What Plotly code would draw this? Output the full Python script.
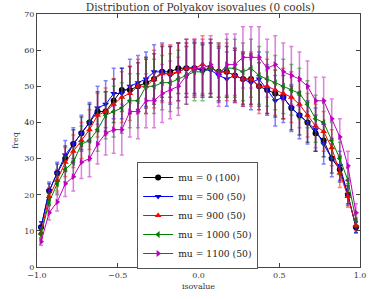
import plotly.graph_objects as go

isovalue = [-0.975, -0.925, -0.875, -0.825, -0.775, -0.725, -0.675, -0.625, -0.575, -0.525,
            -0.475, -0.425, -0.375, -0.325, -0.275, -0.225, -0.175, -0.125, -0.075, -0.025,
            0.025, 0.075, 0.125, 0.175, 0.225, 0.275, 0.325, 0.375, 0.425, 0.475,
            0.525, 0.575, 0.625, 0.675, 0.725, 0.775, 0.825, 0.875, 0.925, 0.975]

freq_mu0 = [11, 21, 26, 30, 34, 37, 40, 43, 43, 46, 49, 49, 50, 51, 52, 54, 54, 55, 55, 55,
            54.5, 55, 54, 54, 53, 52, 52, 50, 49, 48, 47, 44, 42, 40, 37, 35, 30, 27, 20, 11]
err_mu0 = [1.5, 2, 2.5, 3.5, 4, 4.5, 5, 5.5, 5.5, 6, 6, 6.5, 6.5, 7, 7, 7, 7, 7, 7, 7,
           7, 7, 7, 7, 7, 7, 7, 6.5, 6.5, 6.5, 6, 6, 5.5, 5.5, 5, 4.5, 4, 3.5, 2.5, 1.5]

freq_mu500 = [11, 21, 26, 31, 34, 37, 40, 44, 45, 48, 48, 50, 51, 52, 54, 54, 53, 54, 55, 55,
              54.5, 54.5, 53, 52, 53, 52, 51, 52, 49, 46, 47, 44, 42, 40, 38, 34, 30, 28, 20, 11]
err_mu500 = [1.5, 2.5, 3, 4, 4.5, 5, 5.5, 6, 6.5, 7, 7, 7.5, 7.5, 7.5, 7.5, 8, 8, 8, 8, 7.5,
             7.5, 7.5, 7.5, 7.5, 7.5, 7.5, 7.5, 7.5, 7, 7, 7, 6.5, 6.5, 6, 6, 5.5, 5, 4, 3, 1.5]

freq_mu900 = [9.5, 19.5, 24, 29, 32, 35, 38, 42, 43, 45, 47, 48, 50, 50, 52, 53.5, 53.5, 54, 55, 55,
              56, 55, 54, 54, 53, 52, 52, 50, 50, 49, 48, 47, 45, 42, 39, 37.5, 33, 26, 19.5, 11.5]
err_mu900 = [1.5, 2.5, 3, 4, 4.5, 5, 5.5, 6, 6.5, 7, 7, 7.5, 7.5, 7.5, 8, 8, 8, 8, 8, 8,
             8, 8, 8, 8, 7.5, 7.5, 7.5, 7.5, 7.5, 7, 7, 7, 6.5, 6, 6, 5.5, 5, 4, 3, 1.5]

freq_mu1000 = [9, 18, 23, 27, 29, 34, 35, 38, 42, 43, 44, 46, 46, 50, 50, 51, 51, 52, 53, 54,
               54, 55, 54, 55, 55, 54, 55, 53, 52, 51, 50, 49, 48, 45, 41, 40, 35, 30, 24, 13]
err_mu1000 = [1.5, 2.5, 3, 3.5, 4, 5, 5.5, 6, 6.5, 7, 7, 7.5, 7.5, 7.5, 7.5, 7.5, 8, 8, 8, 8,
              8, 8, 8, 8, 8, 8, 8, 8, 7.5, 7.5, 7.5, 7, 7, 6.5, 6.5, 6, 5, 4.5, 3.5, 2]

freq_mu1100 = [7, 15, 18, 23, 25, 29, 30, 34, 37, 38, 38, 43, 43, 46, 46, 48, 49, 50, 53, 55,
               55, 56, 53, 56, 56, 58, 58, 58, 55, 56, 54, 53, 52, 50, 46, 46, 41, 36, 28, 15]
err_mu1100 = [1, 2, 2.5, 3.5, 4, 4.5, 5, 5.5, 6, 6.5, 7, 7, 7.5, 7.5, 7.5, 8, 8, 8, 8, 8,
              8, 8, 8.5, 8.5, 8.5, 8.5, 8.5, 8.5, 8, 8, 8, 8, 7.5, 7, 6.5, 6.5, 5.5, 5, 4, 2.5]

series = [
    ("mu = 0 (100)", freq_mu0, err_mu0, "#000000", "rgba(0,0,0,0.55)", "circle"),
    ("mu = 500 (50)", freq_mu500, err_mu500, "#0000ff", "rgba(0,0,255,0.5)", "triangle-down"),
    ("mu = 900 (50)", freq_mu900, err_mu900, "#ff0000", "rgba(255,0,0,0.5)", "triangle-up"),
    ("mu = 1000 (50)", freq_mu1000, err_mu1000, "#008000", "rgba(0,128,0,0.5)", "triangle-left"),
    ("mu = 1100 (50)", freq_mu1100, err_mu1100, "#bf00bf", "rgba(191,0,191,0.5)", "triangle-right"),
]

font_family = "DejaVu Serif"

fig = go.Figure()
for name, y, e, col, ecol, sym in series:
    fig.add_trace(go.Scatter(
        x=isovalue, y=y, name=name, mode="lines+markers",
        line=dict(color=col, width=1),
        marker=dict(color=col, symbol=sym, size=6, line=dict(width=0)),
        error_y=dict(type="data", array=e, visible=True, color=ecol, thickness=1.5, width=2),
    ))

fig.update_layout(
    width=371, height=299,
    margin=dict(l=37, r=5, t=14, b=32),
    paper_bgcolor="white", plot_bgcolor="white",
    font=dict(family=font_family, size=8, color="#333333"),
    title=dict(text="Distribution of Polyakov isovalues (0 cools)", x=0.54, xanchor="center",
               y=0.977, yanchor="middle", font=dict(size=10.5, family=font_family, color="#333333")),
    showlegend=True,
    legend=dict(x=0.31, y=0.415, xanchor="left", yanchor="top",
                bgcolor="white", bordercolor="#555555", borderwidth=1,
                font=dict(size=9.2, family=font_family, color="#222222"),
                tracegroupgap=0, itemwidth=30),
)
fig.update_xaxes(range=[-1, 1], tickvals=[-1, -0.5, 0, 0.5, 1], tickformat=".1f",
                 showline=True, linecolor="#444444", linewidth=1, mirror="ticks",
                 ticks="inside", ticklen=4, tickcolor="#444444", showgrid=False, zeroline=False,
                 ticklabeloverflow="allow",
                 title=dict(text="isovalue", font=dict(size=8), standoff=4))
fig.update_yaxes(range=[0, 70], tickvals=[0, 10, 20, 30, 40, 50, 60, 70],
                 showline=True, linecolor="#444444", linewidth=1, mirror="ticks",
                 ticks="inside", ticklen=4, tickcolor="#444444", showgrid=False, zeroline=False,
                 title=dict(text="freq", font=dict(size=8), standoff=4))

fig.write_html("out.html", config={"displayModeBar": False},
               post_script="document.body.style.margin='0';")
